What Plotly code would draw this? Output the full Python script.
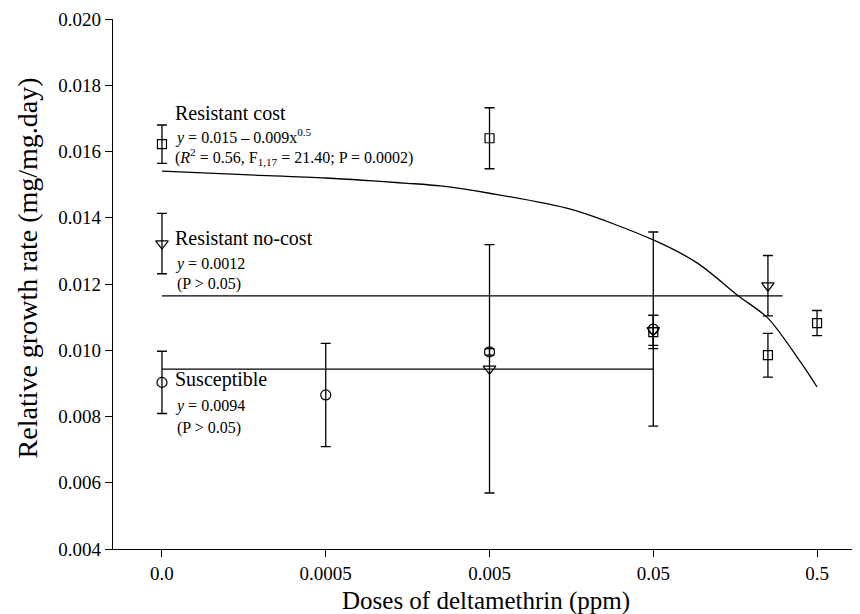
import plotly.graph_objects as go

# Dose categories (placed at equal spacing, one extra intermediate dose)
tick_labels = ["0.0", "0.0005", "0.005", "0.05", "0.5"]
tick_pos = [0, 1, 2, 3, 4]
y_ticks = [0.004, 0.006, 0.008, 0.010, 0.012, 0.014, 0.016, 0.018, 0.020]

# Resistant cost (squares)
rc_x = [0, 2, 3, 3.7, 4]
rc_y = [0.01622, 0.01640, 0.01055, 0.00985, 0.01082]
rc_e = [0.00058, 0.00092, 0.00050, 0.00066, 0.00038]

# Resistant no-cost (triangles)
rn_x = [0, 2, 3, 3.7]
rn_y = [0.01322, 0.00944, 0.01060, 0.01195]
rn_e = [0.00091, 0.00375, 0.00045, 0.00091]

# Susceptible (circles)
su_x = [0, 1, 2, 3]
su_y = [0.00903, 0.00865, 0.00995, 0.01064]
su_e = [0.00094, 0.00156, 0.00010, 0.00293]

# Fitted curve for resistant cost
fit_x = [0, 0.5, 1, 1.5, 1.7, 2, 2.5, 3, 3.27, 3.52, 3.7, 3.9, 4]
fit_y = [0.01541, 0.01530, 0.01520, 0.01504, 0.01496, 0.01474, 0.01425, 0.01333,
         0.01263, 0.01164, 0.01097, 0.00964, 0.00889]

# Horizontal mean lines
nocost_x = [0, 3.79]
nocost_y = [0.01164, 0.01164]
susc_x = [0, 3]
susc_y = [0.00943, 0.00943]

FONT = "Liberation Serif"
LW = 1.3

fig = go.Figure()

fig.add_trace(go.Scatter(x=fit_x, y=fit_y, mode="lines",
                         line=dict(color="black", width=LW, shape="spline", smoothing=0.8),
                         showlegend=False, hoverinfo="skip"))
fig.add_trace(go.Scatter(x=nocost_x, y=nocost_y, mode="lines", line=dict(color="black", width=LW),
                         showlegend=False, hoverinfo="skip"))
fig.add_trace(go.Scatter(x=susc_x, y=susc_y, mode="lines", line=dict(color="black", width=LW),
                         showlegend=False, hoverinfo="skip"))

def pts(x, y, e, sym, size):
    return go.Scatter(x=x, y=y, mode="markers",
                      marker=dict(symbol=sym, size=size, color="black", line=dict(color="black", width=1.2)),
                      error_y=dict(type="data", array=e, visible=True, color="black", thickness=LW, width=5),
                      showlegend=False)

fig.add_trace(pts(su_x, su_y, su_e, "circle-open", 10))
fig.add_trace(pts(rn_x, rn_y, rn_e, "triangle-down-open", 11))
fig.add_trace(pts(rc_x, rc_y, rc_e, "square-open", 9))

ann = [
    (0.07, 0.01715, "Resistant cost", 20),
    (0.07, 0.01644, "<i>y</i> = 0.015 – 0.009x<sup>0.5</sup>", 16),
    (0.07, 0.01582, "(<i>R</i><sup>2</sup> = 0.56, F<sub>1,17</sub> = 21.40; P = 0.0002)", 16),
    (0.07, 0.01339, "Resistant no-cost", 20),
    (0.07, 0.01260, "<i>y</i> = 0.0012", 16),
    (0.08, 0.01200, "(P > 0.05)", 16),
    (0.07, 0.00913, "Susceptible", 20),
    (0.07, 0.00832, "<i>y</i> = 0.0094", 16),
    (0.08, 0.00765, "(P > 0.05)", 16),
]
for x, y, t, s in ann:
    fig.add_annotation(x=x, y=y, xref="x", yref="y", text=t, showarrow=False,
                       xanchor="left", yanchor="middle", font=dict(family=FONT, size=s, color="black"))

# Axis titles
fig.add_annotation(x=0.5, y=-0.098, xref="paper", yref="paper", text="Doses of deltamethrin (ppm)",
                   showarrow=False, xanchor="center", yanchor="middle",
                   font=dict(family=FONT, size=25, color="black"))
fig.add_annotation(x=-0.115, y=0.53, xref="paper", yref="paper", text="Relative growth rate (mg/mg.day)",
                   showarrow=False, xanchor="center", yanchor="middle", textangle=-90,
                   font=dict(family=FONT, size=28, color="black"))

fig.update_layout(
    width=860, height=614,
    margin=dict(l=105, r=10, t=11, b=73),
    paper_bgcolor="white", plot_bgcolor="white",
    font=dict(family=FONT, color="black"),
    showlegend=False,
)
fig.update_xaxes(range=[-0.299, 4.25], tickvals=tick_pos, ticktext=tick_labels,
                 showline=True, linecolor="black", linewidth=1.3, ticks="outside", ticklen=7,
                 tickwidth=1.2, tickcolor="black", showgrid=False, zeroline=False,
                 tickfont=dict(family=FONT, size=19, color="black"), automargin=False)
fig.update_yaxes(range=[0.004, 0.020], tickvals=y_ticks, tickformat=".3f",
                 showline=True, linecolor="black", linewidth=1.3, ticks="outside", ticklen=7,
                 tickwidth=1.2, tickcolor="black", showgrid=False, zeroline=False,
                 tickfont=dict(family=FONT, size=19, color="black"), automargin=False)

fig.write_html("out.html")
